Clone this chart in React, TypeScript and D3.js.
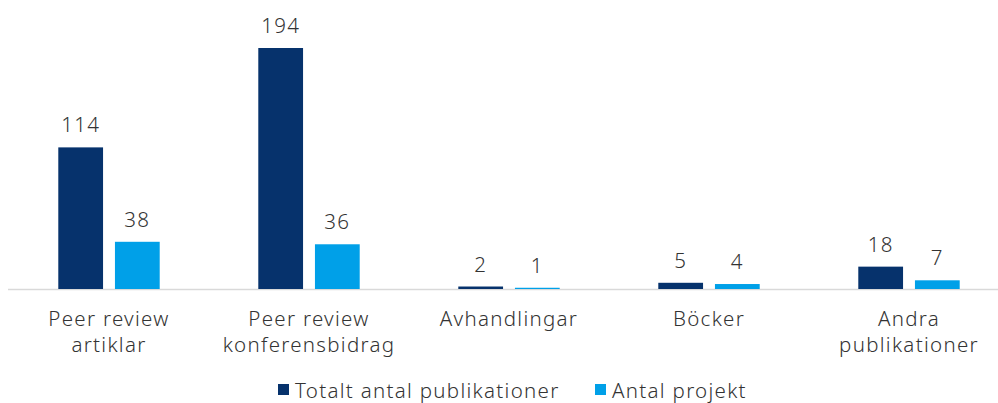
import React from 'react';
import * as d3 from 'd3';

const categories = [
  ['Peer review', 'artiklar'],
  ['Peer review', 'konferensbidrag'],
  ['Avhandlingar'],
  ['Böcker'],
  ['Andra', 'publikationer'],
];
const totalPublications = [114, 194, 2, 5, 18];
const projects = [38, 36, 1, 4, 7];
const seriesNames = ['Totalt antal publikationer', 'Antal projekt'];
const colors = ['#06326c', '#00a0e8'];

const W = 998;
const H = 403;
const baseline = 289;
const font = "'Noto Sans', sans-serif";
const textColor = '#333333';
const fontSize = 20.5;
const spacing = 1.3;

export default function App() {
  const x = d3
    .scaleBand<number>()
    .domain(d3.range(categories.length))
    .range([9, 1009]);
  const inner = d3
    .scaleBand<number>()
    .domain([0, 1])
    .range([0, x.bandwidth()])
    .paddingInner(0.21)
    .paddingOuter(0.87);
  const y = d3.scaleLinear().domain([0, 194]).range([baseline, 48]);
  const series = [totalPublications, projects];

  return (
    <svg width={W} height={H} style={{ position: 'absolute', left: 0, top: 0 }}>
      <line x1={8} x2={W} y1={baseline + 0.5} y2={baseline + 0.5} stroke="#d9d9d9" strokeWidth={1.5} />
      {series.map((vals, s) =>
        vals.map((v, i) => {
          const bx = x(i)! + inner(s)!;
          return (
            <g key={`${s}-${i}`}>
              <rect x={bx} y={y(v)} width={inner.bandwidth()} height={baseline - y(v)} fill={colors[s]} />
              <text
                x={bx + inner.bandwidth() / 2}
                y={y(v) - 15}
                textAnchor="middle"
                fontFamily={font}
                fontWeight={300}
                fontSize={fontSize}
                letterSpacing={spacing}
                fill={textColor}
              >
                {v}
              </text>
            </g>
          );
        })
      )}
      {categories.map((lines, i) => (
        <text
          key={i}
          textAnchor="middle"
          fontFamily={font}
          fontWeight={300}
          fontSize={fontSize}
          letterSpacing={spacing}
          fill={textColor}
        >
          {lines.map((l, j) => (
            <tspan key={j} x={x(i)! + x.bandwidth() / 2} y={326 + j * 26}>
              {l}
            </tspan>
          ))}
        </text>
      ))}
      <g fontFamily={font} fontWeight={300} fontSize={fontSize} letterSpacing={spacing} fill={textColor}>
        <rect x={278} y={384} width={11} height={11} fill={colors[0]} />
        <text x={295} y={398}>{seriesNames[0]}</text>
        <rect x={595} y={384} width={11} height={11} fill={colors[1]} />
        <text x={612} y={398}>{seriesNames[1]}</text>
      </g>
    </svg>
  );
}
